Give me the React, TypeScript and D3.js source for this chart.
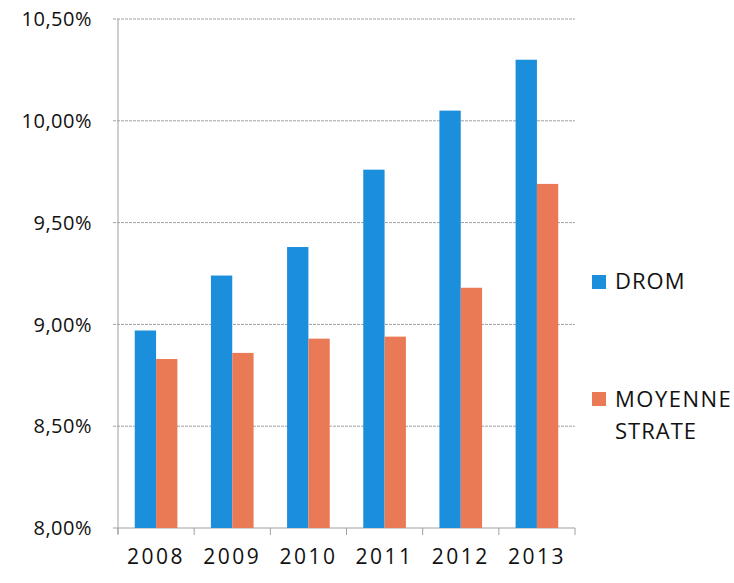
import { useRef, useEffect } from "react";
import * as d3 from "d3";

const years = ["2008", "2009", "2010", "2011", "2012", "2013"];
const seriesNames = ["DROM", "MOYENNE STRATE"];
const dromValues = [8.97, 9.24, 9.38, 9.76, 10.05, 10.3];
const strateValues = [8.83, 8.86, 8.93, 8.94, 9.18, 9.69];
const yTicks = [8, 8.5, 9, 9.5, 10, 10.5];

export default function App() {
  const chartRef = useRef<HTMLDivElement>(null);

  useEffect(() => {
    if (!chartRef.current) return;
    d3.select(chartRef.current).selectAll("*").remove();

    const width = 734;
    const height = 583;
    const margin = { top: 19, right: 159, bottom: 55, left: 118 };
    const font = "'Open Sans', sans-serif";
    const colors = ["#1b8fdb", "#ea7a55"];

    const svg = d3
      .select(chartRef.current)
      .append("svg")
      .attr("width", width)
      .attr("height", height)
      .style("position", "absolute")
      .style("left", "0px")
      .style("top", "0px")
      .style("background", "#fff");

    const y = d3
      .scaleLinear()
      .domain([8, 10.5])
      .range([height - margin.bottom, margin.top]);

    const x = d3
      .scaleBand()
      .domain(years)
      .range([margin.left, width - margin.right])
      .paddingInner(0.44)
      .paddingOuter(0.22);

    const xSub = d3
      .scaleBand()
      .domain(seriesNames)
      .range([0, x.bandwidth()]);

    // gridlines
    svg
      .append("g")
      .selectAll("line")
      .data(yTicks)
      .enter()
      .append("line")
      .attr("x1", margin.left - 5)
      .attr("x2", width - margin.right)
      .attr("y1", (d) => y(d))
      .attr("y2", (d) => y(d))
      .attr("stroke", "#a0a0a0")
      .attr("stroke-width", 1)
      .attr("stroke-dasharray", (d) => (d === 8 ? null : "3,1"));

    // left axis line
    svg
      .append("line")
      .attr("x1", margin.left)
      .attr("x2", margin.left)
      .attr("y1", y(10.5))
      .attr("y2", y(8) + 6)
      .attr("stroke", "#a0a0a0");

    // x ticks at category boundaries
    const plotW = width - margin.right - margin.left;
    svg
      .append("g")
      .selectAll("line")
      .data(d3.range(years.length + 1))
      .enter()
      .append("line")
      .attr("x1", (i) => margin.left + (i * plotW) / years.length)
      .attr("x2", (i) => margin.left + (i * plotW) / years.length)
      .attr("y1", y(8))
      .attr("y2", y(8) + 7)
      .attr("stroke", "#a0a0a0");

    // y labels
    svg
      .append("g")
      .selectAll("text")
      .data(yTicks)
      .enter()
      .append("text")
      .attr("x", 92)
      .attr("y", (d) => y(d))
      .attr("dy", "0.36em")
      .attr("text-anchor", "end")
      .attr("font-family", font)
      .attr("font-size", "20px")
      .attr("letter-spacing", "0.5px")
      .attr("fill", "#111")
      .text((d) => d.toFixed(2).replace(".", ",") + "%");

    // x labels
    svg
      .append("g")
      .selectAll("text")
      .data(years)
      .enter()
      .append("text")
      .attr("x", (d) => (x(d) ?? 0) + x.bandwidth() / 2)
      .attr("y", y(8) + 36)
      .attr("text-anchor", "middle")
      .attr("font-family", font)
      .attr("font-size", "21px")
      .attr("letter-spacing", "2.5px")
      .attr("fill", "#111")
      .text((d) => d);

    // bars
    const series = [dromValues, strateValues];
    series.forEach((vals, si) => {
      svg
        .append("g")
        .selectAll("rect")
        .data(vals)
        .enter()
        .append("rect")
        .attr("x", (d, i) => (x(years[i]) ?? 0) + (xSub(seriesNames[si]) ?? 0))
        .attr("y", (d) => y(d))
        .attr("width", xSub.bandwidth())
        .attr("height", (d) => y(8) - y(d))
        .attr("fill", colors[si]);
    });

    // legend
    const legend = svg.append("g").attr("transform", "translate(592, 275)");
    legend.append("rect").attr("x", 0).attr("y", 0).attr("width", 14).attr("height", 14).attr("fill", colors[0]);
    legend
      .append("text")
      .attr("x", 23)
      .attr("y", 14)
      .attr("font-family", font)
      .attr("font-size", "22px")
      .attr("letter-spacing", "1px")
      .attr("fill", "#111")
      .text("DROM");

    legend.append("rect").attr("x", 0).attr("y", 117).attr("width", 14).attr("height", 14).attr("fill", colors[1]);
    legend
      .append("text")
      .attr("x", 23)
      .attr("y", 132)
      .attr("font-family", font)
      .attr("font-size", "22px")
      .attr("letter-spacing", "1.5px")
      .attr("fill", "#111")
      .text("MOYENNE");
    legend
      .append("text")
      .attr("x", 23)
      .attr("y", 164)
      .attr("font-family", font)
      .attr("font-size", "22px")
      .attr("letter-spacing", "1px")
      .attr("fill", "#111")
      .text("STRATE");
  }, []);

  return <div ref={chartRef}></div>;
}
